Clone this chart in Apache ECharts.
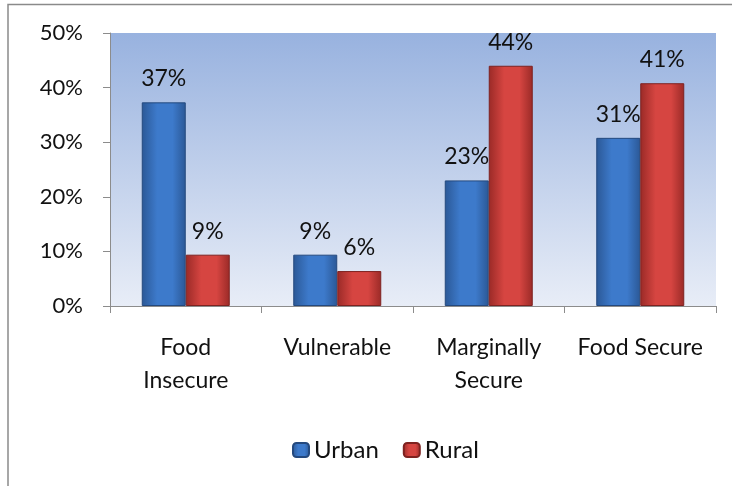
<!DOCTYPE html>
<html>
<head>
<meta charset="utf-8">
<script src="https://cdn.jsdelivr.net/npm/echarts@6/dist/echarts.min.js"></script>
<style>
html, body { margin: 0; padding: 0; background: #ffffff; }
#main { width: 732px; height: 486px; }
</style>
</head>
<body>
<div id="main"></div>
<script>
// categories and values
const categories = ["Food\nInsecure", "Vulnerable", "Marginally\nSecure", "Food Secure"];
const urban = [37.3, 9.4, 23.0, 30.8];
const rural = [9.4, 6.4, 44.0, 40.8];
const yTicks = [0, 10, 20, 30, 40, 50];

const font = "Lato, 'DejaVu Sans', sans-serif";

function barGradient(dark, light) {
  return new echarts.graphic.LinearGradient(0, 0, 1, 0, [
    { offset: 0, color: dark },
    { offset: 0.35, color: light },
    { offset: 0.7, color: light },
    { offset: 1, color: dark }
  ]);
}

const chart = echarts.init(document.getElementById("main"));
chart.setOption({
  animation: false,
  textStyle: { fontFamily: font },
  grid: {
    left: 110,
    right: 16,
    top: 33,
    bottom: 180,
    show: true,
    borderWidth: 0,
    backgroundColor: new echarts.graphic.LinearGradient(0, 0, 0, 1, [
      { offset: 0, color: "#98b2df" },
      { offset: 1, color: "#e8edf7" }
    ])
  },
  legend: {
    top: 433,
    left: 287,
    itemWidth: 16,
    itemHeight: 14,
    itemGap: 24,
    textStyle: { fontSize: 24, color: "#111", fontFamily: font },
    data: ["Urban", "Rural"]
  },
  xAxis: {
    type: "category",
    data: categories,
    axisLine: { lineStyle: { color: "#8c8c8c", width: 1 } },
    axisTick: { show: true, length: 7, lineStyle: { color: "#8c8c8c" } },
    axisLabel: { interval: 0, fontSize: 23, color: "#111", margin: 25, lineHeight: 33, fontFamily: font }
  },
  yAxis: {
    type: "value",
    min: 0,
    max: 50,
    interval: 10,
    splitLine: { show: false },
    axisLine: { show: true, lineStyle: { color: "#8c8c8c", width: 1 } },
    axisTick: { show: true, length: 7, lineStyle: { color: "#8c8c8c" } },
    axisLabel: {
      fontSize: 22,
      color: "#111",
      margin: 27,
      fontFamily: font,
      formatter: v => (yTicks.indexOf(v) >= 0 ? v + "%" : "")
    }
  },
  series: [
    {
      name: "Urban",
      type: "bar",
      data: urban,
      barWidth: 44,
      barGap: "0%",
      itemStyle: {
        color: barGradient("#2b5896", "#3d7acb"),
        borderColor: "#24497e",
        borderWidth: 1
      },
      label: {
        show: true,
        position: "top",
        distance: 12,
        fontSize: 23,
        color: "#111",
        fontFamily: font,
        formatter: p => Math.round(p.value) + "%"
      }
    },
    {
      name: "Rural",
      type: "bar",
      data: rural,
      barWidth: 44,
      itemStyle: {
        color: barGradient("#9a2a27", "#d64541"),
        borderColor: "#7e2220",
        borderWidth: 1
      },
      label: {
        show: true,
        position: "top",
        distance: 12,
        fontSize: 23,
        color: "#111",
        fontFamily: font,
        formatter: p => Math.round(p.value) + "%"
      }
    }
  ],
  graphic: [
    {
      type: "polyline",
      shape: { points: [[8, 486], [8, 4.5], [732, 4.5]] },
      style: { stroke: "#8a8a8a", lineWidth: 1.5, fill: null }
    }
  ]
});
</script>
</body>
</html>
